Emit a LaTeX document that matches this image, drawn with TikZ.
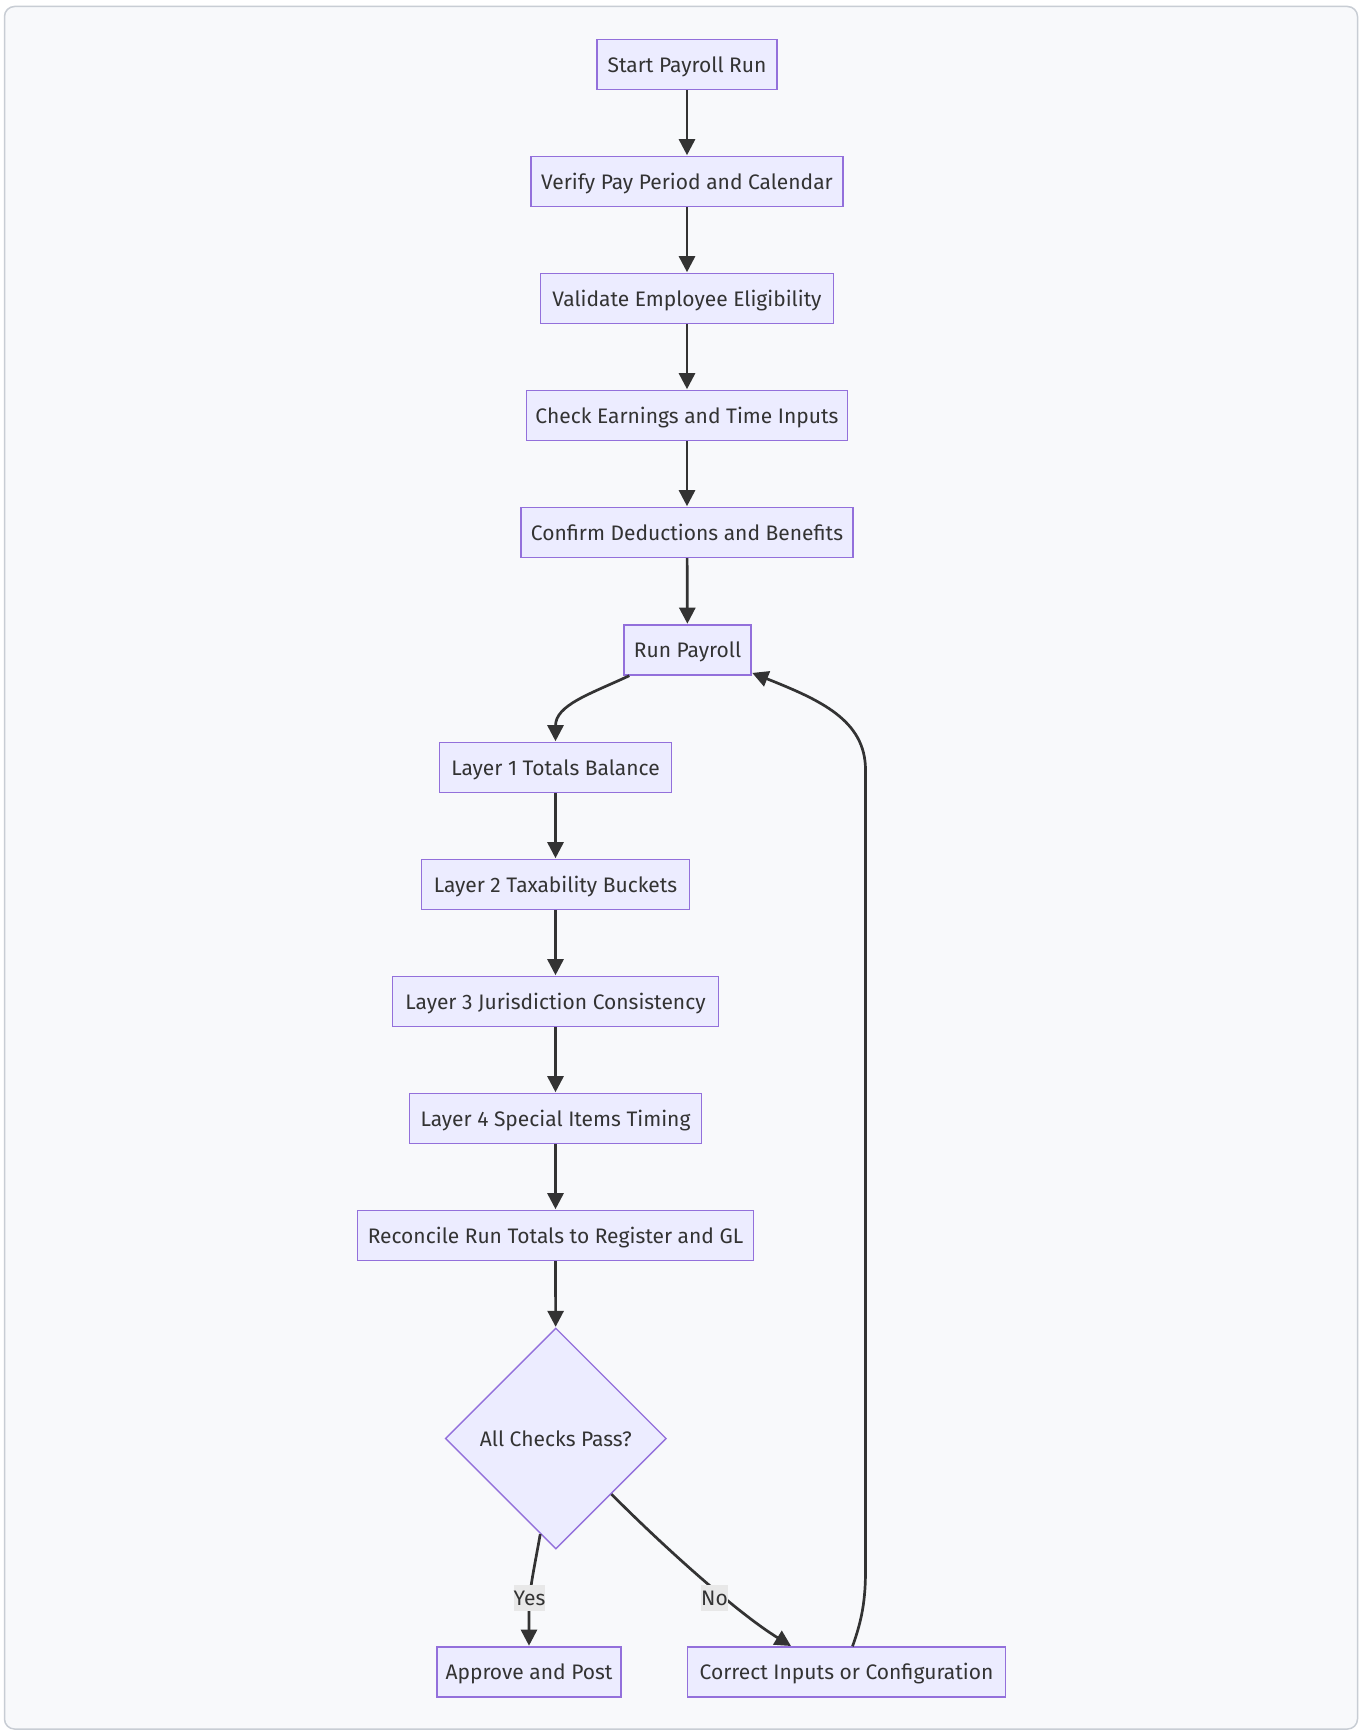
\documentclass[tikz,border=0pt]{standalone}
\usepackage{fontspec}
\setmainfont{Fira Sans}
\usetikzlibrary{shapes.geometric,arrows.meta,calc}
\definecolor{boxfill}{HTML}{ECECFF}
\definecolor{boxline}{HTML}{9370DB}
\definecolor{edgecol}{HTML}{333333}
\definecolor{txtcol}{HTML}{333333}
\definecolor{bgcol}{HTML}{F8F9FB}
\definecolor{framecol}{HTML}{C8CDD4}
\definecolor{lblbg}{HTML}{E8E8E8}
\tikzset{
  procbox/.style={draw=boxline, fill=boxfill, line width=1.4pt, minimum height=50pt, inner sep=0pt, text=txtcol, text height=15.5pt, text depth=0pt, font=\fontsize{21}{25}\selectfont},
  decbox/.style={diamond, aspect=1, draw=boxline, fill=boxfill, line width=1.4pt, minimum width=221pt, minimum height=221pt, inner sep=0pt, text=txtcol, text height=15.5pt, text depth=0pt, font=\fontsize{21}{25}\selectfont},
  flow/.style={draw=edgecol, line width=2.7pt, -{Triangle[length=16pt,width=16pt]}, shorten >=0.6pt},
  edgelbl/.style={fill=lblbg, text=txtcol, inner xsep=0pt, inner ysep=0pt, minimum height=26pt, text height=15.5pt, text depth=0pt, font=\fontsize{21}{25}\selectfont}
}
\begin{document}
\begin{tikzpicture}[x=1pt,y=-1pt]
\useasboundingbox (0,0) rectangle (1359,1731);
\fill[white] (0,0) rectangle (1359,1731);
\draw[framecol, fill=bgcol, line width=1.5pt, rounded corners=10pt] (4.5,6.5) rectangle (1357.5,1729);

\node[procbox, minimum width=180pt] (start) at (687,64.5) {Start Payroll Run};
\node[procbox, minimum width=312pt] (verify) at (687,181.5) {Verify Pay Period and Calendar};
\node[procbox, minimum width=293pt] (validate) at (687,298.5) {Validate Employee Eligibility};
\node[procbox, minimum width=321pt] (check) at (687,415.5) {Check Earnings and Time Inputs};
\node[procbox, minimum width=332pt] (confirm) at (687,532.5) {Confirm Deductions and Benefits};
\node[procbox, minimum width=127pt] (run) at (687.5,650) {Run Payroll};
\node[procbox, minimum width=232pt] (l1) at (555.5,767.5) {Layer 1 Totals Balance};
\node[procbox, minimum width=268pt] (l2) at (555.5,884.5) {Layer 2 Taxability Buckets};
\node[procbox, minimum width=326pt] (l3) at (555.5,1001.5) {Layer 3 Jurisdiction Consistency};
\node[procbox, minimum width=292pt] (l4) at (555.5,1118.5) {Layer 4 Special Items Timing};
\node[procbox, minimum width=396pt] (rec) at (555.5,1235.5) {Reconcile Run Totals to Register and GL};
\node[decbox] (dec) at (555.8,1438.5) {All Checks Pass?};
\node[procbox, minimum width=184pt] (approve) at (529,1672) {Approve and Post};
\node[procbox, minimum width=318pt] (correct) at (846.5,1672) {Correct Inputs or Configuration};

\draw[flow] (start) -- (verify);
\draw[flow] (verify) -- (validate);
\draw[flow] (validate) -- (check);
\draw[flow] (check) -- (confirm);
\draw[flow] (confirm) -- (run);
\draw[flow] ($(run.south west)+(6,0)$) .. controls (590,694) and (555.5,705) .. (l1.north);
\draw[flow] (l1) -- (l2);
\draw[flow] (l2) -- (l3);
\draw[flow] (l3) -- (l4);
\draw[flow] (l4) -- (rec);
\draw[flow] (rec) -- (dec);

\coordinate (yesstart) at ($(dec.south)!0.14!(dec.west)$);
\coordinate (nostart) at ($(dec.south)!0.5!(dec.east)$);
\draw[flow] (yesstart) .. controls (533,1575) and (529,1590) .. (529,1615) -- (approve.north);
\draw[flow] (nostart) .. controls (662,1545) and (736,1612) .. ($(correct.north)+(-55,0)$);
\draw[flow] ($(correct.north)+(6,0)$) .. controls (862,1620) and (865.5,1600) .. (865.5,1570) -- (865.5,770) .. controls (865.5,720) and (820,700) .. ($(run.south east)+(0,-3)$);

\node[edgelbl] (yes) at (529.5,1598) {Yes};
\node[edgelbl] (no) at (714.5,1598) {No};
\end{tikzpicture}
\end{document}
